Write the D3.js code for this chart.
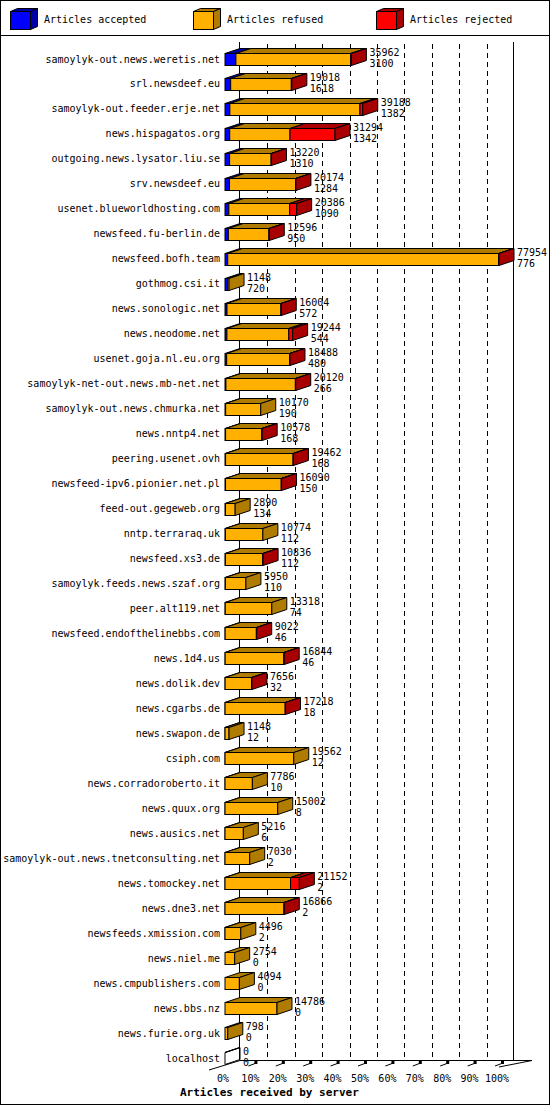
<!DOCTYPE html>
<html><head><meta charset="utf-8">
<script src="https://cdn.jsdelivr.net/npm/d3@7"></script>
<style>body{margin:0;background:#fff}text{font-family:"DejaVu Sans Mono",monospace;font-size:10px}</style>
</head><body><svg id="c" width="550" height="1105"></svg>
<script>
var servers = ["samoylyk-out.news.weretis.net","srl.newsdeef.eu","samoylyk-out.feeder.erje.net","news.hispagatos.org","outgoing.news.lysator.liu.se","srv.newsdeef.eu","usenet.blueworldhosting.com","newsfeed.fu-berlin.de","newsfeed.bofh.team","gothmog.csi.it","news.sonologic.net","news.neodome.net","usenet.goja.nl.eu.org","samoylyk-net-out.news.mb-net.net","samoylyk-out.news.chmurka.net","news.nntp4.net","peering.usenet.ovh","newsfeed-ipv6.pionier.net.pl","feed-out.gegeweb.org","nntp.terraraq.uk","newsfeed.xs3.de","samoylyk.feeds.news.szaf.org","peer.alt119.net","newsfeed.endofthelinebbs.com","news.1d4.us","news.dolik.dev","news.cgarbs.de","news.swapon.de","csiph.com","news.corradoroberto.it","news.quux.org","news.ausics.net","samoylyk-out.news.tnetconsulting.net","news.tomockey.net","news.dne3.net","newsfeeds.xmission.com","news.niel.me","news.cmpublishers.com","news.bbs.nz","news.furie.org.uk","localhost"];
var offered = [35962,19018,39188,31294,13220,20174,20386,12596,77954,1148,16004,19244,18488,20120,10170,10578,19462,16090,2890,10774,10836,5950,13318,9022,16844,7656,17218,1148,19562,7786,15002,5216,7030,21152,16866,4496,2754,4094,14786,798,0];
var accepted = [3100,1618,1382,1342,1310,1284,1090,950,776,720,572,544,480,266,190,168,168,150,134,112,112,110,74,46,46,32,18,12,12,10,8,6,2,2,2,2,0,0,0,0,0];
var rejected = [200,150,800,12800,100,100,2000,100,100,0,100,1100,100,100,0,100,100,100,0,0,100,0,0,100,100,100,100,0,0,0,0,0,0,2500,100,0,0,0,0,0,0];
var tickLabels = ["0%","10%","20%","30%","40%","50%","60%","70%","80%","90%","100%"];
var legendNames = ["Articles accepted","Articles refused","Articles rejected"];

var front = ["#0000ff","#ffb000","#ff0000"], dark = ["#0000a8","#b07c00","#a80000"];
var DX = 15, DY = -5, BH = 12;
var svg = d3.select("#c");
var x = d3.scaleLinear().domain([0, d3.max(offered)]).range([225, 499]);
var y = d3.scalePoint().domain(servers).range([59, 1058]);
var pct = d3.scaleLinear().domain([0, 100]).range([225, 499]);

svg.append("rect").attr("x",0.5).attr("y",0.5).attr("width",549).attr("height",1104).attr("fill","#fff").attr("stroke","#000");
svg.append("line").attr("x1",0).attr("x2",550).attr("y1",35.5).attr("y2",35.5).attr("stroke","#000");

// legend
var lx = [10, 193, 376];
legendNames.forEach(function(n, i){
  var g = svg.append("g"), x0 = lx[i]+0.5, y0 = 11.5, w = 20, h = 18, dx = 7, dy = -3;
  g.append("path").attr("d","M"+x0+","+y0+"l"+dx+","+dy+"h"+w+"l"+(-dx)+","+(-dy)+"z").attr("fill",dark[i]).attr("stroke","#000");
  g.append("path").attr("d","M"+(x0+w)+","+y0+"l"+dx+","+dy+"v"+h+"l"+(-dx)+","+(-dy)+"z").attr("fill",dark[i]).attr("stroke","#000");
  g.append("rect").attr("x",x0).attr("y",y0).attr("width",w).attr("height",h).attr("fill",front[i]).attr("stroke","#000");
  g.append("text").attr("x", lx[i]+34).attr("y", 23).text(n);
});

// grid / back plane
var grid = svg.append("g");
d3.range(1, 10).forEach(function(k){
  grid.append("line").attr("x1",Math.round(pct(k*10))+DX+0.5).attr("x2",Math.round(pct(k*10))+DX+0.5)
    .attr("y1",44).attr("y2",1060).attr("stroke","#000").attr("stroke-dasharray","5,4");
});
grid.append("line").attr("x1",pct(0)+DX-0.5).attr("x2",pct(0)+DX-0.5).attr("y1",42).attr("y2",1060).attr("stroke","#000");
grid.append("line").attr("x1",pct(100)+DX-0.5).attr("x2",pct(100)+DX-0.5).attr("y1",42).attr("y2",1060).attr("stroke","#000");
grid.append("line").attr("x1",pct(0)+DX).attr("x2",pct(100)+DX+18).attr("y1",1060.5).attr("y2",1060.5).attr("stroke","#000");
grid.append("line").attr("x1",pct(0)-16).attr("y1",1070).attr("x2",pct(0)+DX).attr("y2",1060.5).attr("stroke","#000");
grid.append("line").attr("x1",pct(100)).attr("y1",1067).attr("x2",pct(100)+DX+18).attr("y2",1060.5).attr("stroke","#000");
d3.range(1, 11).forEach(function(k){
  var px = pct(k*10);
  grid.append("line").attr("x1",px-4).attr("y1",1066).attr("x2",px+4).attr("y2",1063).attr("stroke","#000");
  grid.append("rect").attr("x",px+2).attr("y",1061).attr("width",3).attr("height",3).attr("fill","#000");
});
tickLabels.forEach(function(t, k){
  svg.append("text").attr("x", pct(k*10)-2).attr("y", 1082).attr("text-anchor","middle").text(t);
});
svg.append("text").attr("x",180).attr("y",1096).attr("font-weight","bold").style("font-size","11px").text("Articles received by server");

// bars
servers.forEach(function(s, i){
  var g = svg.append("g");
  var cy = y(s);
  g.append("text").attr("x",220).attr("y",cy+3.5).attr("text-anchor","end").text(s);
  var a = accepted[i], r = rejected[i], ref = offered[i] - a - r;
  var segs = [[0,a,0],[a,a+ref,1],[a+ref,offered[i],2]];
  var last = 1;
  segs.forEach(function(sg){ if (sg[1] > sg[0]) last = sg[2]; });
  var y0 = Math.round(cy - 6) + 0.5;
  var empty = offered[i] === 0;
  segs.forEach(function(sg){
    if (sg[1] <= sg[0] && !(empty && sg[2] === 1)) return;
    var x0 = x(sg[0]), w = x(sg[1]) - x(sg[0]);
    g.append("path").attr("d","M"+x0+","+y0+"l"+DX+","+DY+"h"+w+"l"+(-DX)+","+(-DY)+"z").attr("fill",empty ? "none" : dark[sg[2]]).attr("stroke","#000");
    g.append("rect").attr("x",x0).attr("y",y0).attr("width",w).attr("height",BH).attr("fill",front[sg[2]]).attr("stroke","#000");
  });
  var xe = x(offered[i]);
  g.append("path").attr("d","M"+xe+","+y0+"l"+DX+","+DY+"v"+BH+"l"+(-DX)+","+(-DY)+"z").attr("fill",empty ? "none" : dark[last]).attr("stroke","#000");
  g.append("text").attr("x",xe+18).attr("y",cy-3).text(offered[i]);
  g.append("text").attr("x",xe+18).attr("y",cy+8).text(accepted[i]);
});
</script></body></html>
